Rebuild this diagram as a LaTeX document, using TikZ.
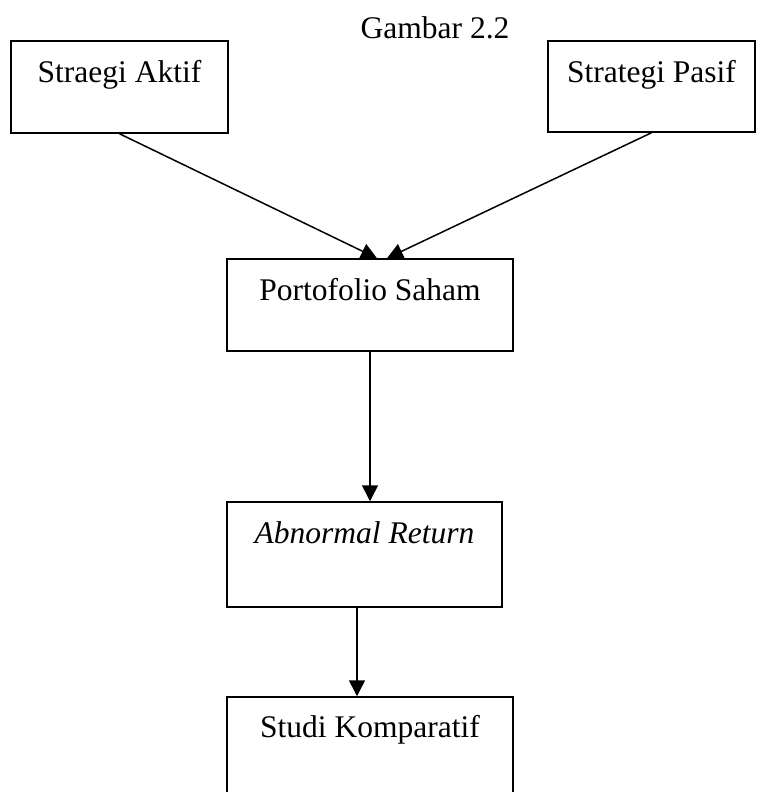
\documentclass[tikz,border=0pt]{standalone}
\usepackage{fontspec}
\setmainfont{Liberation Serif}
\usepackage{tikz}
\usetikzlibrary{arrows.meta}

\begin{document}
\begin{tikzpicture}[x=1pt, y=-1pt,
		kotak/.style={draw, line width=1.5pt, inner sep=0pt, anchor=base, align=center},
		panah/.style={-{Triangle[length=16pt, width=16pt]}, line width=1.5pt}
	]
	\fontsize{31.5}{38}\selectfont
	\clip (0,0) rectangle (756,792);

	\node[anchor=base west] (judul) at (350,38) {Gambar 2.2};

	\node[kotak, minimum width=217pt, text height=41pt, text depth=51pt]
		(aktif) at (119.5,82) {Straegi Aktif};
	\node[kotak, minimum width=207pt, text height=41pt, text depth=50pt]
		(pasif) at (651.5,82) {Strategi Pasif};
	\node[kotak, minimum width=286pt, text height=41pt, text depth=51pt]
		(porto) at (370,300) {Portofolio Saham};
	\node[kotak, minimum width=275pt, text height=41pt, text depth=64pt]
		(abnormal) at (364.5,543) {\textit{Abnormal Return}};
	\node[kotak, minimum width=286pt, text height=40pt, text depth=63pt]
		(studi) at (370,737) {Studi Komparatif};

	\draw[panah] (aktif.south) -- ([xshift=7pt]porto.north);
	\draw[panah] (pasif.south) -- ([xshift=17pt]porto.north);
	\draw[panah] (porto.south) -- (porto.south |- abnormal.north);
	\draw[panah] ([xshift=-7.5pt]abnormal.south) coordinate (a) -- (a |- studi.north);
\end{tikzpicture}
\end{document}
